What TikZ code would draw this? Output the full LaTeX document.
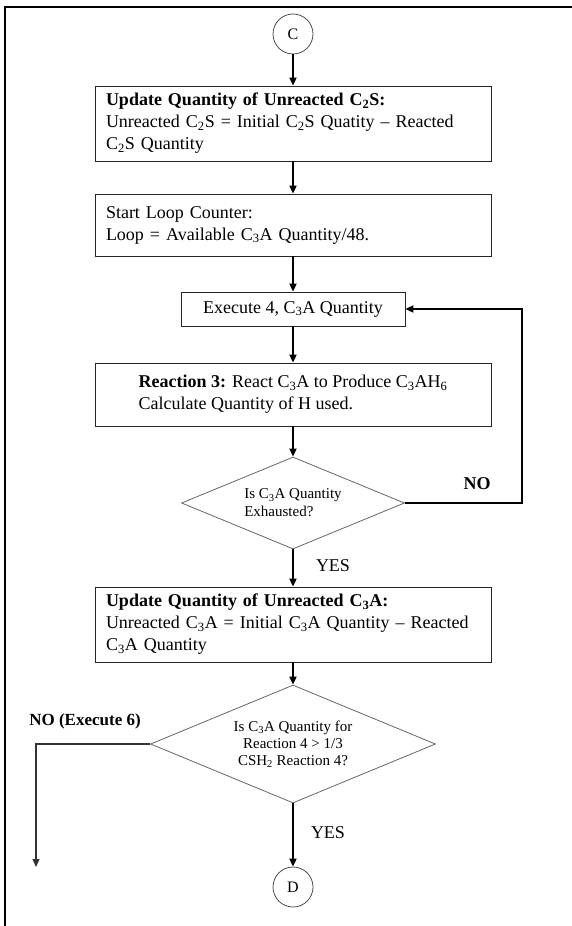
\documentclass[tikz,border=0pt]{standalone}
\usepackage{fontspec}
\setmainfont{Liberation Serif}
\usetikzlibrary{arrows.meta,shapes.geometric}
\newcommand\sbs[1]{\textsubscript{#1}}
\begin{document}
\begin{tikzpicture}[x=1pt,y=-1pt,
  font=\fontsize{18}{22}\selectfont,
  box/.style={draw=black!85,line width=0.8pt,inner xsep=11pt,inner ysep=0pt,align=left},
  dia/.style={draw=black!60,line width=0.8pt,shape=diamond,inner sep=0pt,font=\fontsize{15}{18}\selectfont},
  conn/.style={draw=black!70,line width=0.8pt,circle,minimum size=40pt,inner sep=0pt,font=\fontsize{16}{19}\selectfont},
  arr/.style={line width=1.8pt,-{Triangle[width=7pt,length=8pt]}},
  lab/.style={font=\fontsize{18}{22}\selectfont}]
\useasboundingbox (0,0) rectangle (572,926);
\draw[line width=2.2pt] (5,926) -- (5,7) -- (572,7);

\node[conn] (c) at (293,34) {C};
\node[box,text width=374pt,minimum height=75pt] (b1) at (293,123.5)
  {\textbf{Update Quantity of Unreacted C\sbs{2}S:}\\Unreacted C\sbs{2}S = Initial C\sbs{2}S Quatity -- Reacted\\C\sbs{2}S Quantity};
\node[box,text width=374pt,minimum height=62pt] (b2) at (293,225)
  {Start Loop Counter:\\Loop = Available C\sbs{3}A Quantity/48.};
\node[box,minimum width=224pt,minimum height=34pt,align=center] (b3) at (293,309)
  {Execute 4, C\sbs{3}A Quantity};
\node[box,minimum width=396pt,minimum height=63pt] (b4) at (293,394.5)
  {\textbf{Reaction 3:} React C\sbs{3}A to Produce C\sbs{3}AH\sbs{6}\\Calculate Quantity of H used.};
\node[dia,shape aspect=2.5,minimum width=223pt,minimum height=92pt,align=left] (d1) at (293,503)
  {Is C\sbs{3}A Quantity\\Exhausted?};
\node[box,text width=374pt,minimum height=75pt] (b5) at (293,624.5)
  {\textbf{Update Quantity of Unreacted C\sbs{3}A:}\\Unreacted C\sbs{3}A = Initial C\sbs{3}A Quantity -- Reacted\\C\sbs{3}A Quantity};
\node[dia,shape aspect=2.4,minimum width=285pt,minimum height=118pt,align=center,font=\fontsize{15}{17}\selectfont] (d2) at (293,744)
  {Is C\sbs{3}A Quantity for\\Reaction 4 {>} 1/3\\CSH\sbs{2} Reaction 4?};
\node[conn] (d) at (293,887) {D};

\coordinate (nocorner) at (522,503);
\coordinate (nocorner2) at (36,744);
\coordinate (noend) at (36,867);

\draw[arr] (c) -- (b1);
\draw[arr] (b1) -- (b2);
\draw[arr] (b2) -- (b3);
\draw[arr] (b3) -- (b4);
\draw[arr] (b4) -- (d1);
\draw[arr] (d1) -- (b5);
\draw[arr] (b5) -- (d2);
\draw[arr] (d2) -- (d);
\draw[arr] (d1.east) -- (nocorner) |- (b3.east);
\draw[line width=1.2pt,draw=black!80,-{Triangle[width=7pt,length=8pt]}] (d2.west) -- (nocorner2) -- (noend);

\node[lab,font=\fontsize{18}{22}\selectfont\bfseries] (no1) at (477,484) {NO};
\node[lab] (yes1) at (333,566) {YES};
\node[lab,font=\fontsize{17}{20}\selectfont\bfseries] (no2) at (85,721) {NO (Execute 6)};
\node[lab] (yes2) at (328,833) {YES};
\end{tikzpicture}
\end{document}
